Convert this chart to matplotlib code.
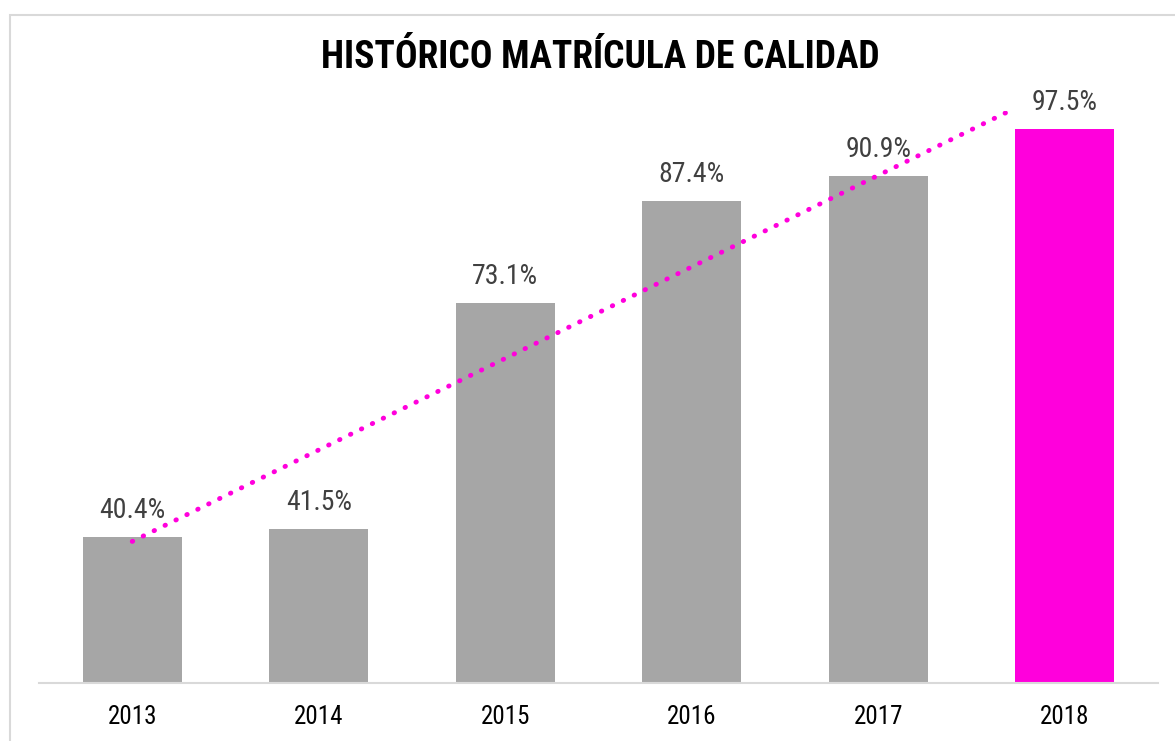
import numpy as np
import matplotlib
matplotlib.use('Agg')
import matplotlib.pyplot as plt
from matplotlib.patches import Rectangle

years = ['2013', '2014', '2015', '2016', '2017', '2018']
values = [40.4, 41.5, 73.1, 87.4, 90.9, 97.5]
bar_colors = ['#A6A6A6'] * 5 + ['#FF00DC']
title = 'HISTÓRICO MATRÍCULA DE CALIDAD'

# no Arial Narrow here, Roboto Condensed is the closest
plt.rcParams['font.family'] = ['Roboto Condensed', 'Archivo Narrow', 'DejaVu Sans']

fig = plt.figure(figsize=(11.75, 7.41), dpi=100)
ax = fig.add_axes([39 / 1175, 58 / 741, 1119 / 1175, 572 / 741])

x = np.arange(len(years))
ax.bar(x, values, width=0.53, color=bar_colors, zorder=2)

# linear trendline, as excel draws it
slope, icpt = np.polyfit(x, values, 1)
ax.plot(x, slope * x + icpt, color='#FF00DC', lw=3.5, linestyle=(0, (0.1, 2.4)),
        dash_capstyle='round', zorder=3)

for xi, v in zip(x, values):
    ax.annotate(f'{v:.1f}%', (xi, v), xytext=(0, 9.5), textcoords='offset points',
                ha='center', va='bottom', fontsize=20, color='#404040', zorder=4)

ax.set_xlim(-0.5, len(years) - 0.5)
ax.set_ylim(20, 100)
ax.set_xticks(x)
ax.set_xticklabels(years, fontsize=18, color='#000000')
ax.tick_params(axis='x', length=0, pad=16)
ax.set_yticks([])
for s in ['left', 'right', 'top']:
    ax.spines[s].set_visible(False)
ax.spines['bottom'].set_color('#D9D9D9')
ax.spines['bottom'].set_linewidth(1.5)

fig.text(600 / 1175, 1 - 57 / 741, title, ha='center', va='center',
         fontsize=27, fontweight='bold', color='#000000')

# chart frame (runs off the picture at right and bottom)
fig.patches.append(Rectangle((10 / 1175, -0.05), 1.2, 1.05 - 15 / 741,
                             transform=fig.transFigure, fill=False,
                             edgecolor='#D9D9D9', lw=1.5))

fig.savefig('out.png', dpi=100)
